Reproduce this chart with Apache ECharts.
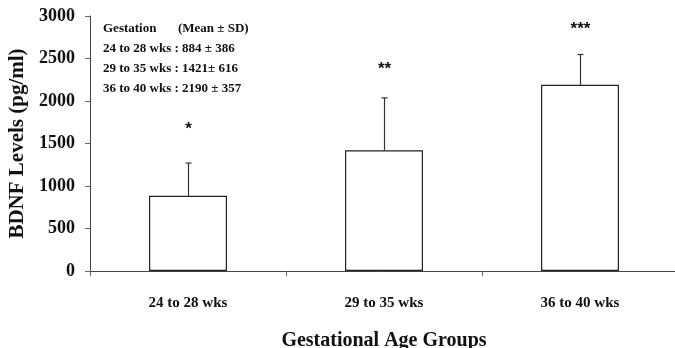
<!DOCTYPE html>
<html><head><meta charset="utf-8">
<script src="https://cdn.jsdelivr.net/npm/echarts@6/dist/echarts.min.js"></script>
<style>html,body{margin:0;padding:0;background:#fff}#c{width:675px;height:348px}</style>
</head><body><div id="c"></div>
<script>
const categories = ['24 to 28 wks', '29 to 35 wks', '36 to 40 wks'];
const means = [884, 1421, 2190];
const sds = [386, 616, 357];
const stars = ['*', '**', '***'];
const starLevels = [1650, 2360, 2830];
const yTicks = [0, 500, 1000, 1500, 2000, 2500, 3000];
const legendHeader = ['Gestation', '(Mean \u00b1 SD)'];
const legendLines = ['24 to 28 wks : 884 \u00b1 386', '29 to 35 wks : 1421\u00b1 616', '36 to 40 wks : 2190 \u00b1 357'];

const serif = '"Liberation Serif", "DejaVu Serif", serif';
const chart = echarts.init(document.getElementById('c'));
const errData = categories.map((c, i) => [i, means[i], means[i] + sds[i], starLevels[i]]);

chart.setOption({
  animation: false,
  grid: { left: 90, top: 16, bottom: 77, width: 588, containLabel: false, outerBoundsMode: 'none' },
  xAxis: {
    type: 'category', data: categories,
    axisLine: { lineStyle: { color: '#444', width: 1 } },
    axisTick: { show: true, alignWithLabel: false, length: 5, lineStyle: { color: '#666' } },
    axisLabel: { fontFamily: serif, fontWeight: 'bold', fontSize: 15, color: '#111', margin: 25 },
    name: 'Gestational Age Groups', nameLocation: 'middle', nameGap: 60,
    nameTextStyle: { fontFamily: serif, fontWeight: 'bold', fontSize: 20, color: '#111' }
  },
  yAxis: {
    type: 'value', min: yTicks[0], max: yTicks[yTicks.length - 1], interval: 500,
    splitLine: { show: false },
    axisLine: { show: true, lineStyle: { color: '#444', width: 1 } },
    axisTick: { show: true, length: 5, lineStyle: { color: '#666' } },
    axisLabel: { fontFamily: serif, fontWeight: 'bold', fontSize: 18, color: '#111', margin: 15, formatter: v => String(v) },
    name: 'BDNF Levels (pg/ml)', nameLocation: 'middle', nameGap: 61, nameRotate: 90,
    nameTextStyle: { fontFamily: serif, fontWeight: 'bold', fontSize: 21, color: '#111' }
  },
  series: [
    {
      type: 'bar', data: means, barWidth: 78,
      itemStyle: { color: '#fff', borderColor: '#222', borderWidth: 1.2 }
    },
    {
      type: 'custom', data: errData, z: 5,
      renderItem: function (params, api) {
        const base = api.coord([api.value(0), api.value(1)]);
        const top = api.coord([api.value(0), api.value(2)]);
        const star = api.coord([api.value(0), api.value(3)]);
        const x = Math.round(base[0]) + 0.5;
        return {
          type: 'group', children: [
            { type: 'line', shape: { x1: x, y1: base[1], x2: x, y2: top[1] }, style: { stroke: '#333', lineWidth: 1.2 } },
            { type: 'line', shape: { x1: x - 3, y1: top[1], x2: x + 3, y2: top[1] }, style: { stroke: '#333', lineWidth: 1.2 } },
            { type: 'text', style: { x: x, y: star[1] - 1, text: stars[params.dataIndex], fontFamily: '"Liberation Sans", Arial, sans-serif', fontWeight: 'bold', fontSize: 17, fill: '#111', align: 'center', verticalAlign: 'middle' } }
          ]
        };
      }
    }
  ],
  graphic: [
    { type: 'text', left: 103, top: 22, style: { text: legendHeader[0], fontFamily: serif, fontWeight: 'bold', fontSize: 13, fill: '#111' } },
    { type: 'text', left: 178, top: 22, style: { text: legendHeader[1], fontFamily: serif, fontWeight: 'bold', fontSize: 13, fill: '#111' } },
    ...legendLines.map((t, i) => ({ type: 'text', left: 103, top: 42 + i * 20, style: { text: t, fontFamily: serif, fontWeight: 'bold', fontSize: 13, fill: '#111' } }))
  ]
});
</script></body></html>
